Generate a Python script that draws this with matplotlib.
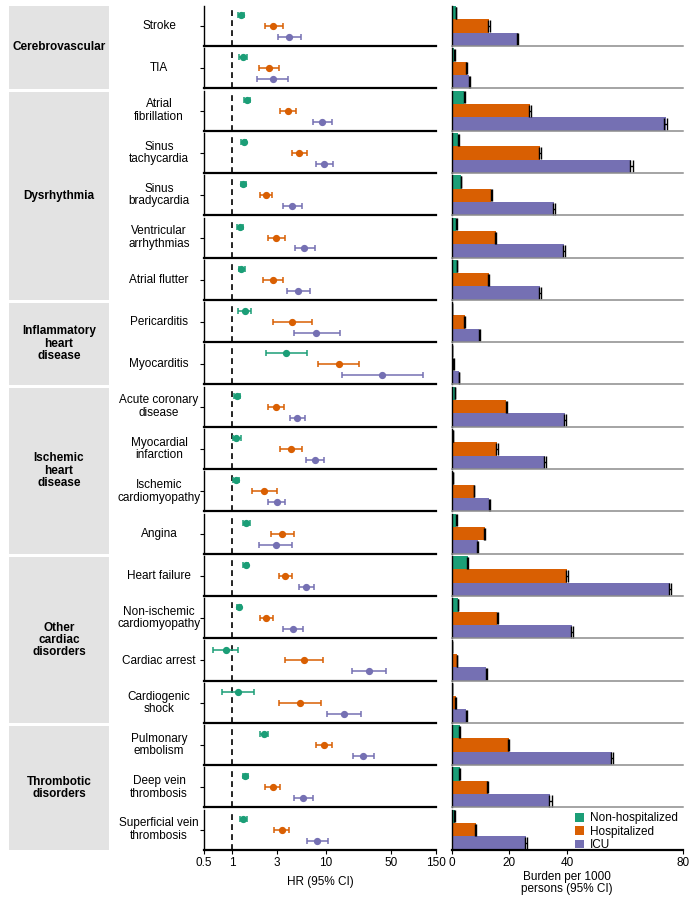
import numpy as np
import matplotlib
matplotlib.use("Agg")
import matplotlib.pyplot as plt
from matplotlib.patches import Rectangle, Patch

plt.rcParams['font.family'] = ['Liberation Sans', 'DejaVu Sans']

# data
outcomes = ["Stroke", "TIA", "Atrial\nfibrillation", "Sinus\ntachycardia",
            "Sinus\nbradycardia", "Ventricular\narrhythmias", "Atrial flutter",
            "Pericarditis", "Myocarditis", "Acute coronary\ndisease",
            "Myocardial\ninfarction", "Ischemic\ncardiomyopathy", "Angina",
            "Heart failure", "Non-ischemic\ncardiomyopathy", "Cardiac arrest",
            "Cardiogenic\nshock", "Pulmonary\nembolism", "Deep vein\nthrombosis",
            "Superficial vein\nthrombosis"]
groups = ["Cerebrovascular", "Dysrhythmia", "Inflammatory\nheart\ndisease",
          "Ischemic\nheart\ndisease", "Other\ncardiac\ndisorders", "Thrombotic\ndisorders"]
group_sizes = [2, 5, 2, 4, 4, 3]

series = ["Non-hospitalized", "Hospitalized", "ICU"]
colors = ["#1b9e77", "#d95f02", "#7570b3"]

hr_non = [1.23, 1.31, 1.45, 1.33, 1.30, 1.21, 1.25, 1.37, 3.75, 1.12,
          1.11, 1.10, 1.40, 1.39, 1.19, 0.85, 1.14, 2.18, 1.38, 1.31]
lo_non = [1.14, 1.19, 1.35, 1.25, 1.23, 1.13, 1.17, 1.16, 2.28, 1.05,
          1.03, 1.03, 1.29, 1.31, 1.13, 0.63, 0.77, 2.00, 1.29, 1.22]
hi_non = [1.35, 1.45, 1.56, 1.41, 1.39, 1.30, 1.36, 1.59, 6.28, 1.21,
          1.23, 1.19, 1.54, 1.47, 1.25, 1.14, 1.71, 2.41, 1.47, 1.43]

hr_hosp = [2.75, 2.45, 3.94, 5.20, 2.28, 2.93, 2.70, 4.35, 13.7, 2.91,
           4.24, 2.18, 3.43, 3.69, 2.31, 5.79, 5.33, 9.46, 2.70, 3.37]
lo_hosp = [2.24, 1.92, 3.24, 4.35, 1.97, 2.41, 2.11, 2.70, 8.17, 2.39,
           3.26, 1.61, 2.57, 3.16, 1.98, 3.69, 3.19, 7.83, 2.26, 2.77]
hi_hosp = [3.46, 3.16, 4.80, 6.23, 2.64, 3.66, 3.51, 7.05, 22.7, 3.57,
           5.56, 2.98, 4.57, 4.31, 2.73, 9.23, 8.93, 11.6, 3.24, 4.07]

hr_icu = [4.07, 2.70, 9.16, 9.55, 4.37, 5.89, 5.04, 7.91, 40.0, 4.95,
          7.71, 2.98, 2.91, 6.18, 4.49, 28.6, 15.5, 24.9, 5.70, 8.11]
lo_icu = [3.11, 1.84, 7.28, 7.84, 3.53, 4.72, 3.81, 4.53, 15.0, 4.17,
          6.18, 2.39, 1.93, 5.16, 3.48, 18.8, 10.3, 19.6, 4.53, 6.34]
hi_icu = [5.42, 3.97, 11.6, 11.9, 5.51, 7.65, 6.71, 14.0, 108.0, 5.98,
          9.62, 3.69, 4.35, 7.40, 5.74, 43.4, 23.7, 32.4, 7.23, 10.6]

bur_non = [1.5, 0.9, 4.3, 2.3, 3.2, 1.6, 1.8, 0.2, 0.1, 1.1,
           0.5, 0.45, 1.6, 5.5, 2.2, 0.05, 0.05, 2.8, 2.8, 1.0]
bur_hosp = [12.9, 5.2, 27.0, 30.7, 13.7, 15.3, 12.8, 4.5, 0.6, 18.9,
            15.7, 7.7, 11.5, 39.8, 15.8, 1.9, 1.4, 19.7, 12.5, 8.3]
bur_icu = [22.8, 6.1, 74.1, 62.2, 35.5, 38.9, 30.6, 9.6, 2.5, 39.2,
           32.3, 13.0, 9.0, 75.6, 41.7, 12.0, 5.0, 55.5, 34.2, 25.7]
err_non = [0.1, 0.1, 0.15, 0.1, 0.15, 0.1, 0.1, 0.05, 0.05, 0.1,
           0.05, 0.05, 0.1, 0.15, 0.1, 0.03, 0.03, 0.1, 0.1, 0.1]
err_hosp = [0.2, 0.15, 0.3, 0.35, 0.2, 0.2, 0.2, 0.1, 0.05, 0.25,
            0.3, 0.15, 0.2, 0.35, 0.2, 0.1, 0.1, 0.25, 0.2, 0.15]
err_icu = [0.25, 0.15, 0.5, 0.5, 0.35, 0.4, 0.3, 0.15, 0.1, 0.4,
           0.35, 0.2, 0.2, 0.5, 0.4, 0.2, 0.15, 0.45, 0.4, 0.3]

hr = [hr_non, hr_hosp, hr_icu]
lo = [lo_non, lo_hosp, lo_icu]
hi = [hi_non, hi_hosp, hi_icu]
bur = [bur_non, bur_hosp, bur_icu]
berr = [err_non, err_hosp, err_icu]

W, H = 695, 900
fig = plt.figure(figsize=(W / 100, H / 100), dpi=100)


def box(x0, y0, w, h):
    # pixel box (top-left origin) -> figure fraction
    return [x0 / W, 1 - (y0 + h) / H, w / W, h / H]


top0 = 6.0
step = 42.3
ph = 40.0
fs = 8.5
n = len(outcomes)

for i in range(n):
    y0 = top0 + i * step
    last = i == n - 1

    # forest panel
    ax = fig.add_axes(box(204, y0, 232, ph))
    ax.set_xscale("log")
    ax.set_xlim(0.5, 150)
    ax.set_ylim(3.82, 0.18)
    ax.axvline(1, color="black", lw=1.2, ls=(0, (3.5, 2.5)), zorder=1)
    for k in range(3):
        ax.errorbar(hr[k][i], k + 1,
                    xerr=[[hr[k][i] - lo[k][i]], [hi[k][i] - hr[k][i]]],
                    fmt="o", color=colors[k], ms=4.2, elinewidth=1.1,
                    capsize=2.2, capthick=1.1, zorder=3)
    for s in ["top", "right"]:
        ax.spines[s].set_visible(False)
    ax.spines["left"].set_linewidth(1.0)
    ax.spines["bottom"].set_linewidth(1.6)
    ax.set_yticks([2])
    ax.set_yticklabels([])
    ax.tick_params(axis="y", length=3, width=0.8)
    ax.minorticks_off()
    if last:
        ax.set_xticks([0.5, 1, 3, 10, 50, 150])
        ax.set_xticklabels(["0.5", "1", "3", "10", "50", "150"], fontsize=fs)
        ax.tick_params(axis="x", length=3, pad=2)
        ax.set_xlabel("HR (95% CI)", fontsize=fs, labelpad=5)
    else:
        ax.set_xticks([])

    # outcome label
    fig.text(159 / W, 1 - (y0 + ph / 2) / H, outcomes[i], ha="center",
             va="center", fontsize=fs, linespacing=1.05)

    # burden panel
    bx = fig.add_axes(box(451.7, y0, 231, ph))
    bx.set_xlim(0, 80)
    bx.set_ylim(3.5, 0.5)
    for k in range(3):
        bx.barh(k + 1, bur[k][i], height=1.0, color=colors[k], lw=0)
        bx.errorbar(bur[k][i], k + 1, xerr=berr[k][i], fmt="none",
                    ecolor="black", elinewidth=1.0, capsize=4.6, capthick=1.0)
    for s in ["top", "right"]:
        bx.spines[s].set_visible(False)
    bx.spines["left"].set_linewidth(1.0)
    bx.set_yticks([])
    if last:
        bx.spines["bottom"].set_linewidth(1.6)
        bx.set_xticks([0, 20, 40, 80])
        bx.set_xticklabels(["0", "20", "40", "80"], fontsize=fs)
        bx.tick_params(axis="x", length=3, pad=2)
        bx.set_xlabel("Burden per 1000\npersons (95% CI)", fontsize=fs,
                      labelpad=2, linespacing=1.0)
    else:
        bx.spines["bottom"].set_color("#8c8c8c")
        bx.spines["bottom"].set_linewidth(1.1)
        bx.set_xticks([])

# group strips
start = 0
for g, size in zip(groups, group_sizes):
    gy0 = top0 + start * step + (1.0 if start else 0.0)
    gy1 = top0 + (start + size - 1) * step + ph + 0.3
    b = box(9, gy0, 100, gy1 - gy0)
    fig.patches.append(Rectangle((b[0], b[1]), b[2], b[3], transform=fig.transFigure,
                                 facecolor="#e3e3e3", edgecolor="none", zorder=0))
    fig.text(59 / W, 1 - (gy0 + gy1) / 2 / H, g, ha="center", va="center",
             fontsize=fs, fontweight="bold", linespacing=1.05)
    start += size

handles = [Patch(facecolor=c, edgecolor="none") for c in colors]
fig.legend(handles, series, loc="upper right", bbox_to_anchor=(680 / W, 1 - 810 / H),
           frameon=False, fontsize=fs, handlelength=0.75, handleheight=0.75,
           labelspacing=0.12, handletextpad=0.5, borderaxespad=0, borderpad=0.2)

fig.savefig("out.png", dpi=100)
